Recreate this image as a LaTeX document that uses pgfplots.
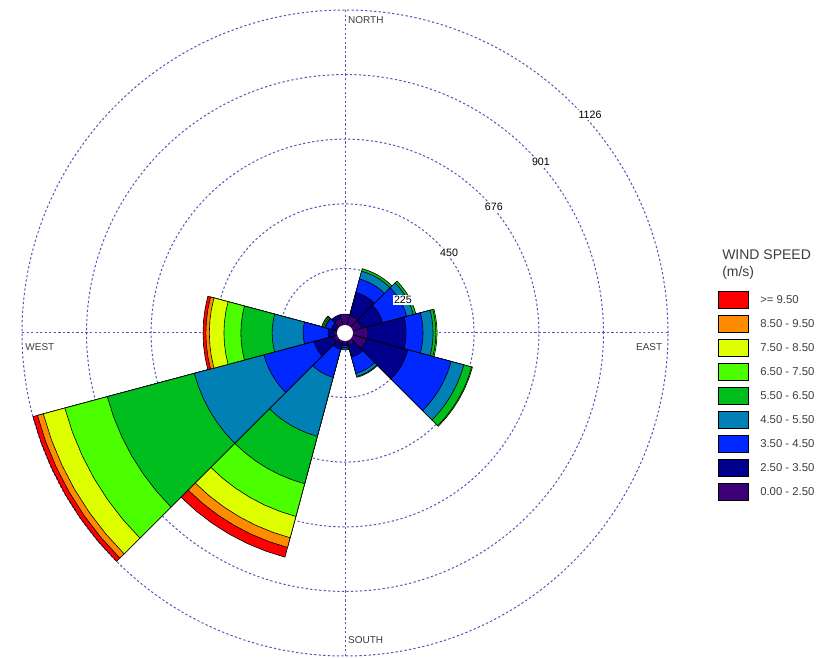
\documentclass[border=0pt]{standalone}
\usepackage{pgfplots}
\pgfplotsset{compat=1.18}
\usepackage{fontspec}
\setmainfont{Liberation Sans}

\definecolor{cRed}{RGB}{255,0,0}
\definecolor{cOra}{RGB}{255,140,0}
\definecolor{cYel}{RGB}{222,255,0}
\definecolor{cLgr}{RGB}{76,255,0}
\definecolor{cGrn}{RGB}{0,190,30}
\definecolor{cTea}{RGB}{0,128,180}
\definecolor{cBlu}{RGB}{0,40,255}
\definecolor{cNav}{RGB}{0,0,140}
\definecolor{cPur}{RGB}{60,0,120}
\definecolor{gridc}{RGB}{85,85,185}
\definecolor{labc}{RGB}{60,60,60}

% #1 = sector bearing (deg, clockwise from north), #2 = cumulative count (outer radius), #3 = colour
\newcommand{\wseg}[3]{%
  \pgfmathsetmacro\aA{75-#1}%
  \pgfmathsetmacro\aB{80-#1}%
  \pgfmathsetmacro\aC{85-#1}%
  \pgfmathsetmacro\aD{90-#1}%
  \pgfmathsetmacro\aE{95-#1}%
  \pgfmathsetmacro\aF{100-#1}%
  \pgfmathsetmacro\aG{105-#1}%
  \edef\doplot{\noexpand\addplot[fill=#3, draw=black, line width=0.45pt, data cs=polar, mark=none] coordinates {(0,0) (\aA,#2) (\aB,#2) (\aC,#2) (\aD,#2) (\aE,#2) (\aF,#2) (\aG,#2)} -- cycle;}%
  \doplot
}
\tikzset{gridline/.style={gridc, line width=0.75pt, dash pattern=on 1.7pt off 1.7pt}}

\begin{document}
\begin{tikzpicture}
\useasboundingbox (0,0) rectangle (620.25pt,492.75pt);
\begin{axis}[at={(258.75pt,243pt)}, anchor=center, scale only axis,
  width=484.5pt, height=484.5pt,
  xmin=-1126, xmax=1126, ymin=-1126, ymax=1126,
  hide axis, clip=false]

% grid
\draw[gridline] (axis cs:0,-1126) -- (axis cs:0,1126);
\draw[gridline] (axis cs:-1126,0) -- (axis cs:1126,0);
\draw[gridline] (axis cs:0,0) circle[radius=225];
\draw[gridline] (axis cs:0,0) circle[radius=450];
\draw[gridline] (axis cs:0,0) circle[radius=676];
\draw[gridline] (axis cs:0,0) circle[radius=901];
\draw[gridline] (axis cs:0,0) circle[radius=1126];

% sector 0
\wseg{0}{66}{cPur}
% sector 30
\wseg{30}{232}{cGrn}
\wseg{30}{223}{cTea}
\wseg{30}{195}{cBlu}
\wseg{30}{146}{cNav}
\wseg{30}{63}{cPur}
% sector 60
\wseg{60}{256}{cGrn}
\wseg{60}{247}{cTea}
\wseg{60}{223}{cBlu}
\wseg{60}{136}{cNav}
\wseg{60}{59}{cPur}
% sector 90
\wseg{90}{321}{cLgr}
\wseg{90}{317}{cGrn}
\wseg{90}{307}{cTea}
\wseg{90}{272}{cBlu}
\wseg{90}{213}{cNav}
\wseg{90}{80}{cPur}
% sector 120
\wseg{120}{460}{cLgr}
\wseg{120}{457}{cGrn}
\wseg{120}{429}{cTea}
\wseg{120}{383}{cBlu}
\wseg{120}{227}{cNav}
\wseg{120}{77}{cPur}
% sector 150
\wseg{150}{160}{cGrn}
\wseg{150}{157}{cTea}
\wseg{150}{146}{cBlu}
\wseg{150}{87}{cNav}
\wseg{150}{45}{cPur}
% sector 180
\wseg{180}{59}{cGrn}
\wseg{180}{56}{cTea}
\wseg{180}{51}{cBlu}
\wseg{180}{45}{cNav}
\wseg{180}{38}{cPur}
% sector 210
\wseg{210}{809}{cRed}
\wseg{210}{774}{cOra}
\wseg{210}{739}{cYel}
\wseg{210}{662}{cLgr}
\wseg{210}{544}{cGrn}
\wseg{210}{373}{cTea}
\wseg{210}{160}{cBlu}
\wseg{210}{59}{cNav}
\wseg{210}{38}{cPur}
% sector 240
\wseg{240}{1126}{cRed}
\wseg{240}{1110}{cOra}
\wseg{240}{1089}{cYel}
\wseg{240}{1011}{cLgr}
\wseg{240}{858}{cGrn}
\wseg{240}{544}{cTea}
\wseg{240}{293}{cBlu}
\wseg{240}{112}{cNav}
\wseg{240}{42}{cPur}
% sector 270
\wseg{270}{495}{cRed}
\wseg{270}{485}{cOra}
\wseg{270}{473}{cYel}
\wseg{270}{422}{cLgr}
\wseg{270}{363}{cGrn}
\wseg{270}{254}{cTea}
\wseg{270}{146}{cBlu}
\wseg{270}{59}{cNav}
\wseg{270}{38}{cPur}
% sector 300
\wseg{300}{84}{cYel}
\wseg{300}{82}{cLgr}
\wseg{300}{78}{cGrn}
\wseg{300}{73}{cTea}
\wseg{300}{70}{cBlu}
\wseg{300}{49}{cNav}
\wseg{300}{35}{cPur}
% sector 330
\wseg{330}{66}{cNav}
\wseg{330}{52}{cPur}

% calm hole
\fill[white] (axis cs:0,0) circle[radius=28];

% direction labels
\node[anchor=west, font=\fontsize{7.5}{9}\selectfont, text=labc, inner sep=0pt] at (axis cs:10,1091) {NORTH};
\node[anchor=west, font=\fontsize{7.5}{9}\selectfont, text=labc, inner sep=0pt] at (axis cs:10,-1070) {SOUTH};
\node[anchor=west, font=\fontsize{7.5}{9}\selectfont, text=labc, inner sep=0pt] at (axis cs:-1115,-49) {WEST};
\node[anchor=west, font=\fontsize{7.5}{9}\selectfont, text=labc, inner sep=0pt] at (axis cs:1014,-49) {EAST};

% radial labels
\node[fill=white, inner sep=1pt, font=\fontsize{8}{9}\selectfont] at (axis cs:202,115) {225};
\node[fill=white, inner sep=1pt, font=\fontsize{8}{9}\selectfont] at (axis cs:363,279) {450};
\node[fill=white, inner sep=1pt, font=\fontsize{8}{9}\selectfont] at (axis cs:519,439) {676};
\node[fill=white, inner sep=1pt, font=\fontsize{8}{9}\selectfont] at (axis cs:683,596) {901};
\node[fill=white, inner sep=1pt, font=\fontsize{8}{9}\selectfont] at (axis cs:854,760) {1126};
\end{axis}

% legend
\node[anchor=west, inner sep=0pt, font=\fontsize{10.5}{12}\selectfont, text=labc] at (541.5pt,301.5pt) {WIND SPEED};
\node[anchor=west, inner sep=0pt, font=\fontsize{10.5}{12}\selectfont, text=labc] at (541.5pt,288pt) {(m/s)};
\foreach \c/\t [count=\i from 0] in {cRed/{>= 9.50}, cOra/{8.50 - 9.50}, cYel/{7.50 - 8.50}, cLgr/{6.50 - 7.50}, cGrn/{5.50 - 6.50}, cTea/{4.50 - 5.50}, cBlu/{3.50 - 4.50}, cNav/{2.50 - 3.50}, cPur/{0.00 - 2.50}}{
  \pgfmathsetmacro\yy{267.75-18*\i}
  \filldraw[fill=\c, draw=black, line width=0.5pt] (538.5pt,\yy pt-6.2pt) rectangle (561pt,\yy pt+6.2pt);
  \node[anchor=west, inner sep=0pt, font=\fontsize{8.5}{10}\selectfont, text=labc] at (570pt,\yy pt) {\t};
}
\end{tikzpicture}
\end{document}
